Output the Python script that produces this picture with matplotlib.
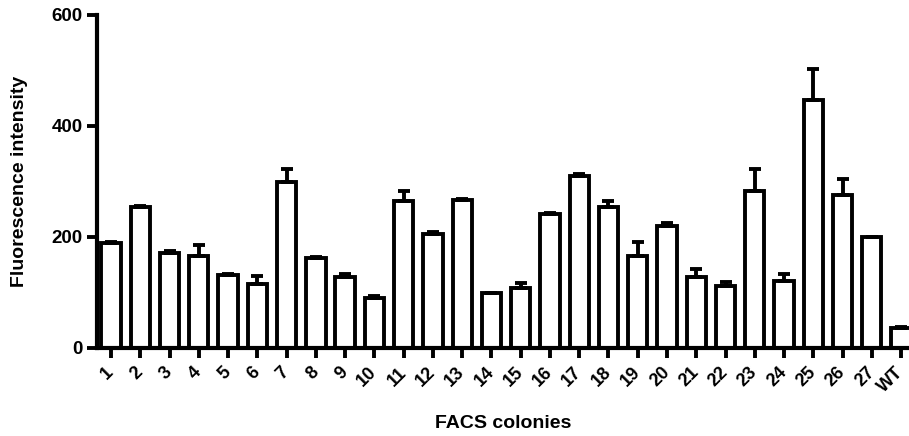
import matplotlib
matplotlib.use("Agg")
import matplotlib.pyplot as plt
import numpy as np

plt.rcParams['font.family'] = ['Liberation Sans', 'DejaVu Sans']
plt.rcParams['font.weight'] = 'bold'

colonies = [str(i) for i in range(1, 28)] + ['WT']
intensity = [189, 254, 171, 166, 131, 115, 298, 162, 128, 89,
             265, 205, 267, 98, 107, 242, 309, 254, 166, 219,
             127, 112, 283, 121, 447, 276, 199, 36]
sem = [1, 1, 3, 19, 2, 14, 25, 2, 5, 4,
       18, 3, 1, 1, 10, 1, 4, 10, 25, 5,
       15, 6, 40, 12, 55, 29, 1, 2]

fig = plt.figure(figsize=(9.09, 4.36), dpi=100)
ax = fig.add_axes([0.1064, 0.2025, 0.8936, 0.7631])

x = np.arange(len(colonies))
lw = 2.8
ax.bar(x, intensity, width=0.66, facecolor='white', edgecolor='black',
       linewidth=lw, zorder=2)
ax.errorbar(x, intensity, yerr=[np.zeros(len(sem)), sem], fmt='none',
            ecolor='black', elinewidth=lw, capsize=4.6, capthick=lw, zorder=3)

ax.set_xlim(-0.49, 27.27)
ax.set_ylim(0, 600)
ax.set_yticks([0, 200, 400, 600])
ax.set_xticks(x)
ax.set_xticklabels(colonies, rotation=45, ha='right', va='center',
                   rotation_mode='anchor', fontsize=13, fontweight='bold')
for lab in ax.get_yticklabels():
    lab.set_fontsize(13.5)
    lab.set_fontweight('bold')

for side in ['top', 'right']:
    ax.spines[side].set_visible(False)
for side in ['left', 'bottom']:
    ax.spines[side].set_linewidth(3.0)
ax.tick_params(axis='both', length=7, width=2.8, direction='out')
ax.tick_params(axis='x', pad=9)
ax.tick_params(axis='y', pad=3)

ax.set_ylabel('Fluorescence intensity', fontsize=14, fontweight='bold', labelpad=17)
ax.set_xlabel('FACS colonies', fontsize=14, fontweight='bold', labelpad=14)

fig.savefig('out.png', dpi=100)
